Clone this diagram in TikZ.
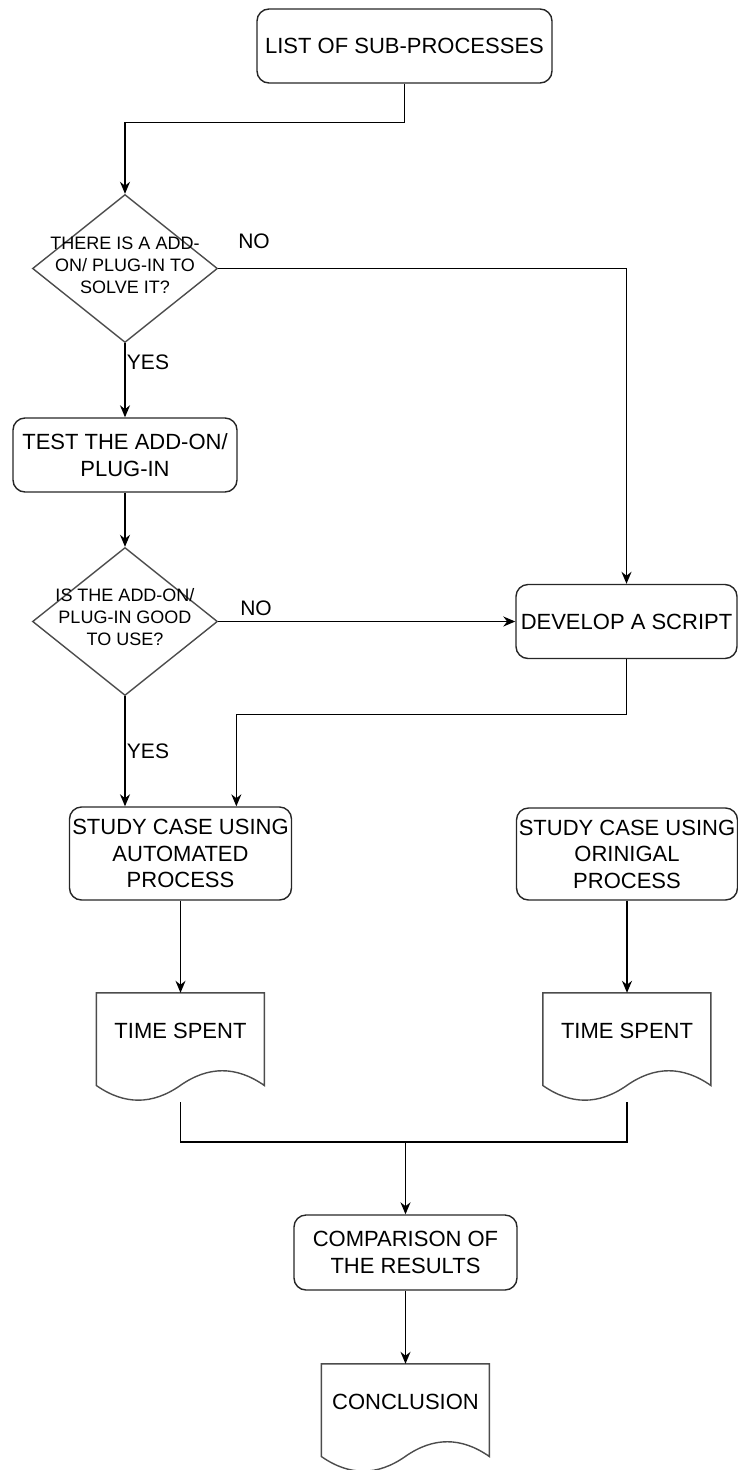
\documentclass[tikz,border=0pt]{standalone}
\usepackage{fontspec}
\setmainfont{Liberation Sans}
\usetikzlibrary{shapes.geometric,arrows.meta,calc}

% Outline of a flowchart "document" symbol (wavy bottom edge) drawn
% over the bounding rectangle of the named node.
\newcommand\docoutline[1]{%
  \begin{scope}[shift={(#1.north west)}]
    \draw[docline] (0,0) -- (168,0) -- (168,92.65)
      .. controls (140,73.03) and (112,73.03) .. (84,92.65)
      .. controls (56,112.27) and (28,112.27) .. (0,92.65) -- cycle;
  \end{scope}}

\begin{document}
\begin{tikzpicture}[x=1pt,y=-1pt,
  box/.style={draw=black!85, line width=1.4pt, rounded corners=12pt,
    inner sep=0pt, align=center, font=\fontsize{22}{26.5}\selectfont},
  decision/.style={draw=black!70, line width=1.4pt, diamond, inner sep=0pt,
    minimum width=185pt, minimum height=148pt},
  dtext/.style={align=center, inner sep=0pt, font=\fontsize{18}{22}\selectfont},
  docnode/.style={inner sep=0pt, minimum width=168pt, minimum height=109pt,
    text height=16pt, text depth=35pt, font=\fontsize{22}{26.5}\selectfont},
  docline/.style={draw=black!70, line width=1.4pt},
  flow/.style={line width=1.5pt, -{Stealth[length=12pt,width=10pt]}},
  plain/.style={line width=1.5pt},
  lbl/.style={font=\fontsize{21}{25}\selectfont, inner sep=0pt}]

\useasboundingbox (0,0) rectangle (738,1470);

% process steps
\node[box, minimum width=295pt, minimum height=74pt] (list) at (404.5,46) {LIST OF SUB-PROCESSES};
\node[decision] (d1) at (125,268.5) {};
\node[dtext] (d1t) at ([yshift=3.5pt]d1.center) {THERE IS A ADD-\\ON/ PLUG-IN TO\\SOLVE IT?};
\node[box, minimum width=224pt, minimum height=74pt] (test) at (125,455) {TEST THE ADD-ON/\\PLUG-IN};
\node[decision] (d2) at (125,621.5) {};
\node[dtext] (d2t) at ([yshift=4pt]d2.center) {IS THE ADD-ON/\\PLUG-IN GOOD\\TO USE?};
\node[box, minimum width=221pt, minimum height=74pt] (dev) at (626.5,621.5) {DEVELOP A SCRIPT};
\node[box, minimum width=222pt, minimum height=93pt] (study1) at (180.5,853.5) {STUDY CASE USING\\AUTOMATED\\PROCESS};
\node[box, minimum width=221pt, minimum height=92pt] (study2) at (627,854) {STUDY CASE USING\\ORINIGAL\\PROCESS};
\node[docnode] (doc1) at (180.5,1047.5) {TIME SPENT};
\node[docnode] (doc2) at (627,1047.5) {TIME SPENT};
\node[box, minimum width=223pt, minimum height=75pt] (comp) at (405.5,1252.5) {COMPARISON OF\\THE RESULTS};
\node[docnode] (concl) at (405.5,1418.5) {CONCLUSION};

\docoutline{doc1}
\docoutline{doc2}
\docoutline{concl}

% connectors
\draw[flow] (list.south) -- ++(0,39) -| (d1.north);
\draw[flow] (d1.east) -| (dev.north);
\draw[flow] (d1.south) -- (test.north);
\draw[flow] (test.south) -- (d2.north);
\draw[flow] (d2.east) -- (dev.west);
\draw[flow] (dev.south) -- ++(0,55.5) -| ($(study1.north west)!0.75!(study1.north east)$);
\draw[flow] (d2.south) -- (d2.south |- study1.north);
\draw[flow] (study1.south) -- (doc1.north);
\draw[flow] (study2.south) -- (doc2.north);
\coordinate (join) at (405.5,1142);
\draw[flow] (doc1.south) |- (join) -- (comp.north);
\draw[plain] (doc2.south) |- (join);
\draw[flow] (comp.south) -- (concl.north);

% branch labels
\node[lbl] (no1) at (254,241) {NO};
\node[lbl] (yes1) at (148,362) {YES};
\node[lbl] (no2) at (256,608) {NO};
\node[lbl] (yes2) at (148,751) {YES};
\end{tikzpicture}
\end{document}
